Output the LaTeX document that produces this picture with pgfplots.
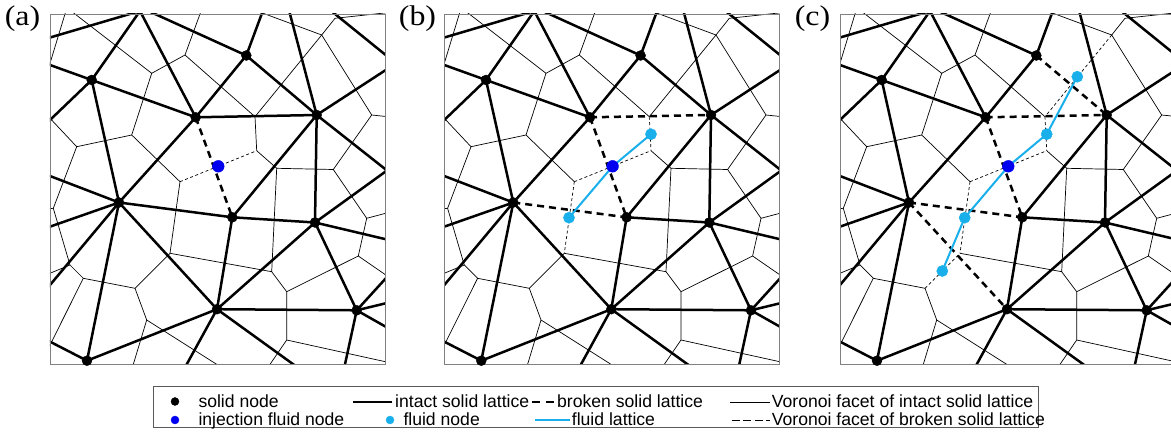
\documentclass[border=0pt]{standalone}
\usepackage{pgfplots}
\pgfplotsset{compat=1.18}
\usepackage{pgfplotstable}
\usepackage{graphicx}
\usepackage{fontspec}
\setmainfont{Liberation Sans}
\newfontfamily\labfont{Liberation Serif}
\definecolor{injblue}{RGB}{0,0,240}
\definecolor{fluidcyan}{RGB}{25,175,235}

% intact solid lattice edges common to all three panels (panel-(a) pixel coordinates)
\pgfplotstableread{
x y
45 39
140 11
91.7 80
nan nan
45 63.2
91.7 80
45 124.8
nan nan
140 11
195.7 117.3
nan nan
91.7 80
195.7 117.3
nan nan
91.7 80
119 202.5
nan nan
195.7 117.3
246.3 55.5
nan nan
195.7 117.3
119 202.5
nan nan
148.4 11
246.3 55.5
262.8 11
nan nan
289.2 11
316.7 115
nan nan
331.3 11
389 57.7
nan nan
389 67.9
316.7 115
387 170.5
315 222.5
nan nan
316.7 115
315 222.5
nan nan
316.7 115
232.3 217.3
nan nan
45 174.1
119 202.5
45 228.4
nan nan
45 291
119 202.5
87 360.7
45 339.1
nan nan
232.3 217.3
315 222.5
389 240
nan nan
232.3 217.3
217 309.2
nan nan
315 222.5
217 309.2
nan nan
315 222.5
356.7 310.3
nan nan
217 309.2
356.7 310.3
nan nan
217 309.2
87 360.7
nan nan
184.7 368
217 309.2
298.4 368
nan nan
344.2 368
356.7 310.3
389 274.8
nan nan
389 302.5
356.7 310.3
389 328.6
}\thicktab

% Voronoi facets common to all three panels
\pgfplotstableread{
x y
65.9 11
48 69.9
nan nan
71.1 11
151.7 73.3
185 55
201.1 11
nan nan
185 55
255 116.7
nan nan
151.7 73.3
131.7 135
76.7 146.7
47 115.1
nan nan
76.7 146.7
53.3 208.3
47 209
nan nan
53.3 208.3
70 265
47 274.5
nan nan
70 265
83.3 278.3
49 347.1
nan nan
83.3 278.3
135 288.3
146.7 320
132.2 368
nan nan
146.7 320
222.5 368
nan nan
131.7 135
180 181.7
nan nan
170 253.3
271.7 271.7
276.7 168.3
256.7 150.7
nan nan
276.7 168.3
333.3 169.5
371.7 115
389 116.8
nan nan
371.7 115
321.7 35
257 11
nan nan
321.7 35
335 18.3
389 12.5
nan nan
333.3 169.5
366.7 218.3
389 212.4
nan nan
366.7 218.3
358.3 256
389 277.2
nan nan
358.3 256
286.7 291.7
271.7 271.7
nan nan
286.7 291.7
286.7 340
267.5 368
nan nan
286.7 340
389 362.5
}\thintab

\tikzset{
  intact/.style={black, line width=2.5pt, line join=round},
  broken/.style={black, line width=2.5pt, dash pattern=on 7pt off 5pt},
  facet/.style={black, line width=0.7pt, line join=round},
  bfacet/.style={black, line width=0.7pt, dash pattern=on 3pt off 2.5pt},
  flat/.style={fluidcyan, line width=2pt, line join=round},
}

\pgfplotsset{
  panel/.style={anchor=center, x=1pt, y=1pt, y dir=reverse,
    xmin=50, xmax=385.5, ymin=14, ymax=364,
    axis lines=box, xtick=\empty, ytick=\empty,
    axis line style={draw=gray, line width=0.8pt},
    axis on top, unbounded coords=jump, clip=true},
}

\newcommand{\commonnet}{%
  \addplot[facet] table {\thintab};
  \addplot[bfacet] coordinates {(180,181.7) (256.7,150.7)};
  \addplot[intact] table {\thicktab};
  \addplot[broken] coordinates {(195.7,117.3) (232.3,217.3)};
}
\newcommand{\soliddots}{%
  \addplot[only marks, mark=*, mark size=5pt, black] coordinates {
    (91.7,80) (195.7,117.3) (246.3,55.5) (316.7,115) (119,202.5)
    (232.3,217.3) (315,222.5) (217,309.2) (356.7,310.3) (87,360.7)};
}
\newcommand{\injdot}{%
  \addplot[only marks, mark=*, mark size=5.9pt, injblue] coordinates {(218.3,166.3)};
}

\begin{document}
\begin{tikzpicture}
\useasboundingbox (0,0) rectangle (1171pt,436pt);

% ---------------- panel (a)
\begin{axis}[panel, at={(217.75pt,247pt)}]
  \commonnet
  \addplot[facet] coordinates {(255,116.7) (256.7,150.7)};
  \addplot[facet] coordinates {(180,181.7) (170,253.3)};
  \addplot[facet] coordinates {(321.7,35) (255,116.7)};
  \addplot[facet] coordinates {(135,288.3) (170,253.3)};
  \addplot[intact] coordinates {(195.7,117.3) (316.7,115)};
  \addplot[intact] coordinates {(119,202.5) (232.3,217.3)};
  \addplot[intact] coordinates {(246.3,55.5) (316.7,115)};
  \addplot[intact] coordinates {(119,202.5) (217,309.2)};
  \soliddots
  \injdot
\end{axis}

% ---------------- panel (b)
\begin{axis}[panel, at={(612.05pt,247pt)}]
  \commonnet
  \addplot[bfacet] coordinates {(255,116.7) (256.7,150.7)};
  \addplot[bfacet] coordinates {(180,181.7) (170,253.3)};
  \addplot[facet] coordinates {(321.7,35) (255,116.7)};
  \addplot[facet] coordinates {(135,288.3) (170,253.3)};
  \addplot[broken] coordinates {(195.7,117.3) (316.7,115)};
  \addplot[broken] coordinates {(119,202.5) (232.3,217.3)};
  \addplot[intact] coordinates {(246.3,55.5) (316.7,115)};
  \addplot[intact] coordinates {(119,202.5) (217,309.2)};
  \addplot[flat] coordinates {(174.7,217.7) (218.3,166.3) (256.7,134.2)};
  \soliddots
  \addplot[only marks, mark=*, mark size=5.6pt, fluidcyan] coordinates {(174.7,217.7) (256.7,134.2)};
  \injdot
\end{axis}

% ---------------- panel (c)
\begin{axis}[panel, at={(1007.75pt,247pt)}]
  \commonnet
  \addplot[bfacet] coordinates {(255,116.7) (256.7,150.7)};
  \addplot[bfacet] coordinates {(180,181.7) (170,253.3)};
  \addplot[bfacet] coordinates {(321.7,35) (255,116.7)};
  \addplot[bfacet] coordinates {(135,288.3) (170,253.3)};
  \addplot[broken] coordinates {(195.7,117.3) (316.7,115)};
  \addplot[broken] coordinates {(119,202.5) (232.3,217.3)};
  \addplot[broken] coordinates {(246.3,55.5) (316.7,115)};
  \addplot[broken] coordinates {(119,202.5) (217,309.2)};
  \addplot[flat] coordinates {(152.3,271) (174.7,217.7) (218.3,166.3) (256.7,134.2) (287.3,76.7)};
  \soliddots
  \addplot[only marks, mark=*, mark size=5.6pt, fluidcyan] coordinates {(152.3,271) (174.7,217.7) (256.7,134.2) (287.3,76.7)};
  \injdot
\end{axis}

% ---------------- panel labels
\node[inner sep=0] at (22.5pt,417pt) {\labfont\fontsize{28.5}{30}\selectfont\scalebox{1.12}[1]{(a)}};
\node[inner sep=0] at (417.5pt,417pt) {\labfont\fontsize{28.5}{30}\selectfont\scalebox{1.12}[1]{(b)}};
\node[inner sep=0] at (812.5pt,417pt) {\labfont\fontsize{28.5}{30}\selectfont\scalebox{1.12}[1]{(c)}};

% ---------------- legend
\begin{axis}[anchor=center, at={(595.5pt,29.5pt)}, x=1pt, y=1pt, y dir=reverse,
  xmin=153, xmax=1038, ymin=386, ymax=427,
  axis lines=box, xtick=\empty, ytick=\empty,
  axis line style={draw=black!65, line width=0.8pt}, clip=false]
  \addplot[only marks, mark=*, mark size=4pt, black] coordinates {(175,401.5)};
  \addplot[only marks, mark=*, mark size=4pt, injblue] coordinates {(175,420)};
  \addplot[only marks, mark=*, mark size=4pt, fluidcyan] coordinates {(390,420)};
  \addplot[black, line width=2.5pt] coordinates {(353.3,402) (392.3,402)};
  \addplot[black, line width=2.5pt, dash pattern=on 8pt off 6pt] coordinates {(532,402) (554,402)};
  \addplot[black, line width=0.7pt] coordinates {(730,402) (770,402)};
  \addplot[fluidcyan, line width=2pt] coordinates {(535,420.5) (570,420.5)};
  \addplot[black, line width=0.7pt, dash pattern=on 8pt off 3.5pt] coordinates {(731.7,420.5) (770,420.5)};
  \begin{scope}[every node/.style={anchor=base west, inner sep=0, font=\fontsize{17.6}{18}\selectfont}]
    \node at (axis cs:198.3,407.3) {solid node};
    \node at (axis cs:395,407.3) {intact solid lattice};
    \node at (axis cs:557,407.3) {broken solid lattice};
    \node at (axis cs:771.7,407.3) {Voronoi facet of intact solid lattice};
    \node at (axis cs:198.3,425.5) {injection fluid node};
    \node at (axis cs:403.3,425.5) {fluid node};
    \node at (axis cs:571.7,425.5) {fluid lattice};
    \node at (axis cs:771.7,425.5) {Voronoi facet of broken solid lattice};
  \end{scope}
\end{axis}
\end{tikzpicture}
\end{document}
